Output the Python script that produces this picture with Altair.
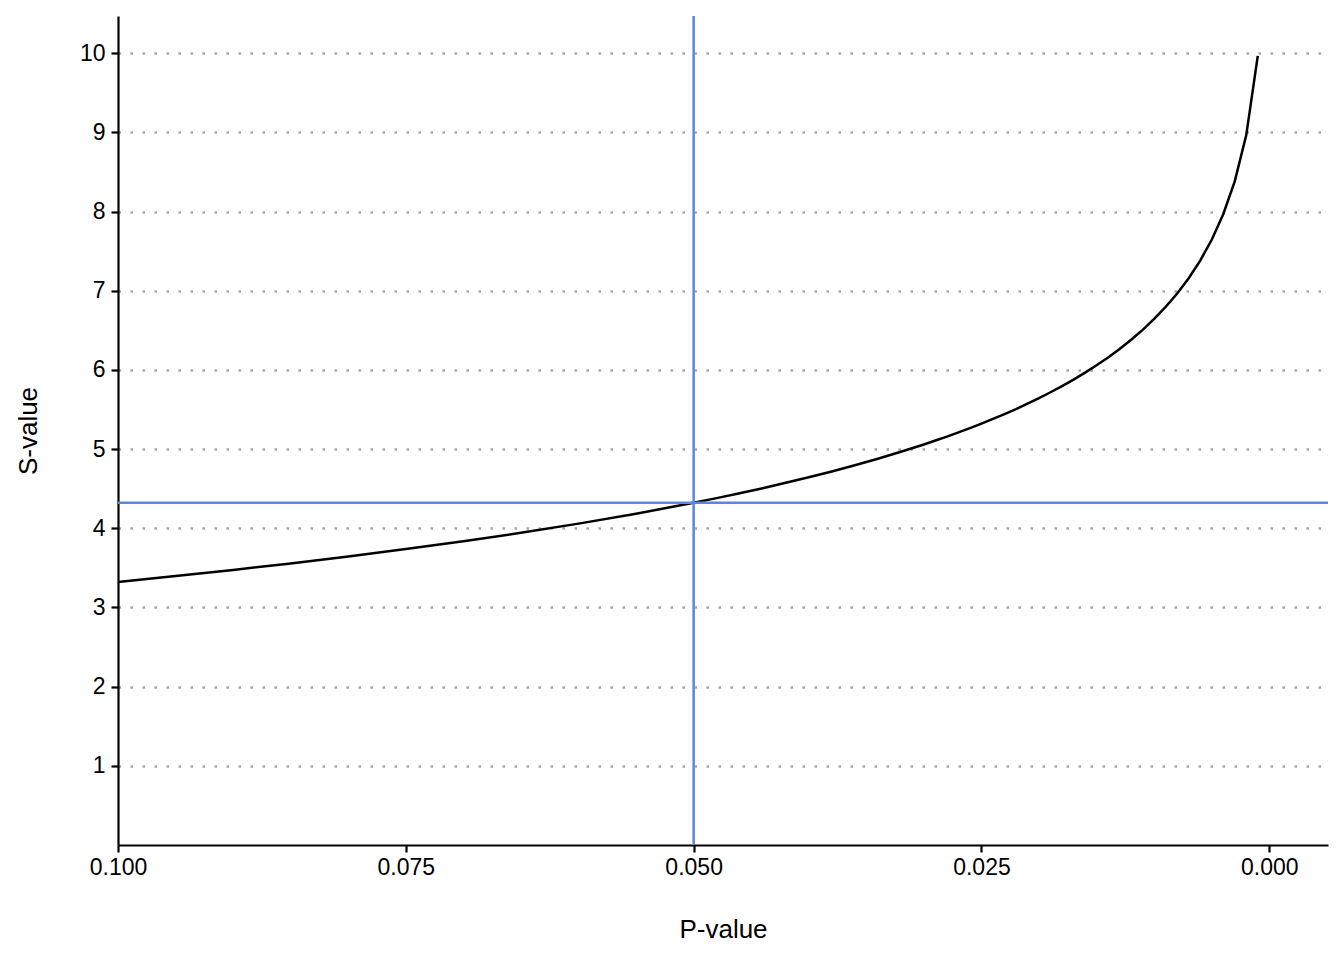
import altair as alt
import pandas as pd

p_values = [0.001, 0.002, 0.003, 0.004, 0.005, 0.006, 0.007, 0.008, 0.009, 0.010,
            0.011, 0.012, 0.013, 0.014, 0.015, 0.016, 0.017, 0.018, 0.019, 0.020,
            0.021, 0.022, 0.023, 0.024, 0.025, 0.026, 0.027, 0.028, 0.029, 0.030,
            0.032, 0.034, 0.036, 0.038, 0.040, 0.042, 0.044, 0.046, 0.048, 0.050,
            0.055, 0.060, 0.065, 0.070, 0.075, 0.080, 0.085, 0.090, 0.095, 0.100]
s_values = [9.966, 8.966, 8.381, 7.966, 7.644, 7.381, 7.158, 6.966, 6.796, 6.644,
            6.506, 6.381, 6.265, 6.158, 6.059, 5.966, 5.878, 5.796, 5.718, 5.644,
            5.574, 5.506, 5.442, 5.381, 5.322, 5.265, 5.211, 5.158, 5.108, 5.059,
            4.966, 4.878, 4.796, 4.718, 4.644, 4.574, 4.506, 4.442, 4.381, 4.322,
            4.184, 4.059, 3.943, 3.837, 3.737, 3.644, 3.556, 3.474, 3.396, 3.322]
x_ticks = [0.100, 0.075, 0.050, 0.025, 0.000]
y_ticks = [1, 2, 3, 4, 5, 6, 7, 8, 9, 10]
ref_p = [0.05]
ref_s = [4.322]

df = pd.DataFrame({"p": p_values, "s": s_values})

FONT = "Liberation Sans"
BLUE = "#5B86DE"

xscale = alt.Scale(domain=[0.1, -0.0051], nice=False, zero=False)
yscale = alt.Scale(domain=[0, 10.47], nice=False, zero=False)

xaxis = alt.Axis(values=x_ticks, format=".3f", title="P-value", grid=False,
                 domainColor="black", domainWidth=2.2, tickColor="black", tickWidth=2.2,
                 tickSize=7, labelFontSize=23, labelColor="black", labelFont=FONT,
                 labelPadding=4, titleFontSize=26, titleFont=FONT, titleFontWeight="normal",
                 titleColor="black", titlePadding=37, labelFlush=False)
yaxis = alt.Axis(values=y_ticks, format="d", title="S-value", grid=True,
                 gridColor="#a8a8a8", gridWidth=2.5, gridDash=[2.5, 9.5],
                 domainColor="black", domainWidth=2.2, tickColor="black", tickWidth=2.2,
                 tickSize=7, labelFontSize=23, labelColor="black", labelFont=FONT,
                 labelPadding=6, titleFontSize=26, titleFont=FONT, titleFontWeight="normal",
                 titleColor="black", titlePadding=38)

curve = alt.Chart(df).mark_line(color="black", strokeWidth=2.5).encode(
    x=alt.X("p:Q", scale=xscale, axis=xaxis),
    y=alt.Y("s:Q", scale=yscale, axis=yaxis),
)

vline = alt.Chart(pd.DataFrame({"p": ref_p})).mark_rule(color=BLUE, strokeWidth=2.5).encode(
    x=alt.X("p:Q", scale=xscale)
)
hline = alt.Chart(pd.DataFrame({"s": ref_s})).mark_rule(color=BLUE, strokeWidth=2.5).encode(
    y=alt.Y("s:Q", scale=yscale)
)

chart = alt.layer(curve, vline, hline).properties(
    width=1210, height=829,
    background="white",
    autosize=alt.AutoSizeParams(type="none"),
    padding={"left": 110, "top": 8, "right": 8, "bottom": 100},
).configure_view(strokeWidth=0, strokeOpacity=0)

chart.save("out.html", embed_options={"renderer": "svg", "actions": False})
